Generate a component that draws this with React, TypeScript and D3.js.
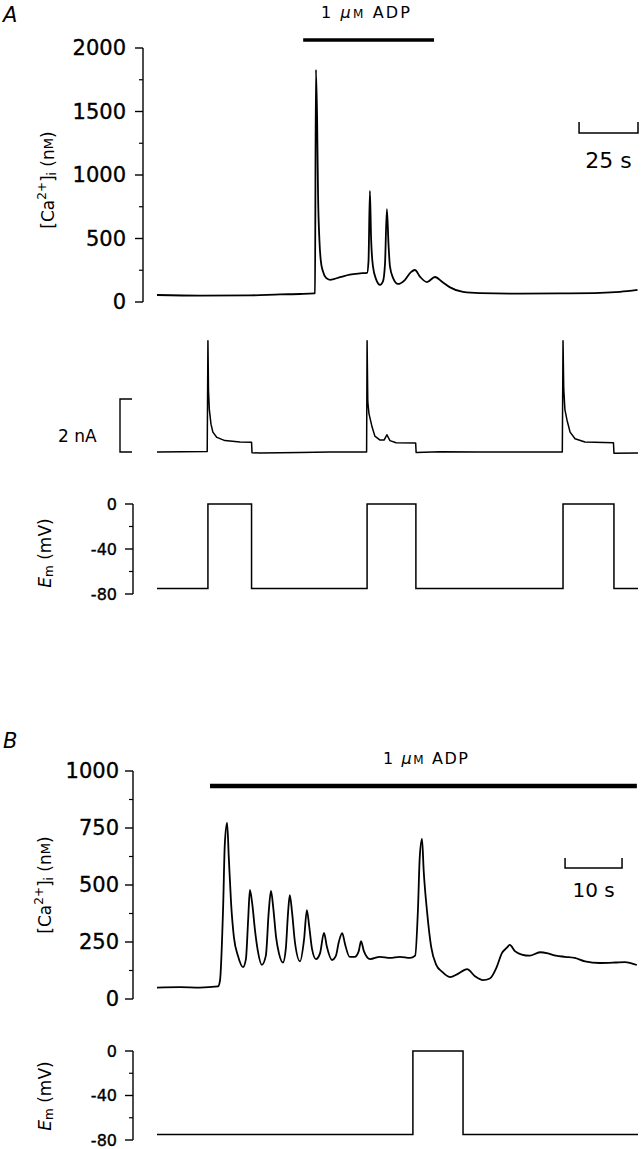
import React from "react";
import * as d3 from "d3";

// ---- panel A: 25 s scale, ADP 1 uM ----
const caA_t = [0, 18.2, 39.4, 52.2, 60.6, 66.6, 67.0, 67.4, 67.9, 68.3, 68.9, 69.5, 70.4, 71.7, 73.4, 77.6, 81.8, 86.1, 89.1, 89.7, 90.3, 90.8, 91.6, 92.9, 94.6, 95.8, 96.7, 97.5, 98.2, 98.8, 100.1, 102.2, 105.2, 107.7, 109.4, 111.5, 114.5, 117.9, 120.9, 124.3, 129.8, 137, 153.9, 170.9, 187.9, 196.4, 203.8];
const caA_nM = [55, 50, 52, 60, 63, 68, 70, 1830, 1450, 850, 480, 320, 240, 190, 175, 195, 215, 225, 230, 320, 874, 500, 280, 180, 135, 160, 300, 732, 450, 280, 190, 142, 175, 235, 252, 200, 157, 197, 160, 115, 79, 70, 66, 68, 72, 80, 95];

const iA_t = [0, 21.3, 21.6, 21.85, 22.2, 22.9, 23.7, 25.4, 28.8, 35.2, 40.1, 40.3, 43.7, 60.6, 73.4, 88.9, 89.1, 89.4, 89.9, 91.2, 92.4, 94.6, 96.3, 97.5, 98.8, 101.4, 109.7, 109.9, 120, 137, 171.9, 172.2, 172.5, 173.0, 173.9, 175.2, 177.3, 181.5, 193.6, 193.8, 204];
const iA_nA = [0, 0.02, 4.2, 2.3, 1.6, 1.05, 0.75, 0.55, 0.43, 0.38, 0.37, -0.03, -0.04, -0.02, 0, 0, 4.2, 1.9, 1.45, 0.95, 0.6, 0.45, 0.45, 0.65, 0.43, 0.35, 0.34, -0.02, 0.01, 0, 0, 4.2, 2.4, 1.6, 1.2, 0.75, 0.5, 0.38, 0.35, -0.05, -0.04];

const emA_t = [0, 21.6, 40.1, 89.1, 109.8, 172.2, 193.8, 204];
const emA_mV = [-75, 0, -75, 0, -75, 0, -75, -75];

const adpA = [62, 117.5];
const caTicksA = [0, 500, 1000, 1500, 2000];

// ---- panel B: 10 s scale ----
const caB_t = [0, 4.0, 7.5, 10.7, 11.05, 11.6, 11.9, 12.3, 12.6, 13.0, 13.5, 14.2, 15.1, 15.6, 16.0, 16.3, 16.7, 17.2, 17.7, 18.4, 19.1, 19.6, 20.0, 20.4, 20.9, 21.4, 22.1, 22.6, 23.0, 23.3, 23.7, 24.2, 25.1, 25.8, 26.3, 26.7, 27.2, 27.9, 28.6, 29.3, 29.8, 30.7, 31.4, 31.9, 32.5, 33.0, 33.8, 34.7, 35.4, 35.8, 36.3, 37.4, 39.1, 40.9, 42.6, 44.4, 45.3, 45.8, 46.1, 46.5, 46.8, 47.4, 48.1, 49.0, 50.0, 51.4, 52.8, 54.4, 55.8, 57.2, 58.4, 59.6, 60.5, 61.4, 61.9, 62.8, 64.0, 65.4, 67.2, 68.6, 70.0, 71.6, 73.3, 75.1, 77.7, 80.4, 82.1, 84.2];
const caB_nM = [50, 52, 50, 55, 80, 400, 680, 772, 620, 420, 270, 190, 140, 175, 350, 478, 420, 300, 210, 150, 190, 380, 474, 400, 270, 200, 160, 220, 380, 456, 380, 250, 165, 260, 390, 320, 220, 175, 200, 290, 230, 171, 190, 250, 289, 240, 185, 185, 210, 254, 210, 175, 185, 180, 185, 180, 190, 400, 620, 702, 560, 380, 230, 150, 120, 96, 110, 131, 100, 83, 90, 140, 200, 225, 237, 210, 195, 190, 205, 200, 190, 185, 180, 165, 158, 160, 162, 149];

const emB_t = [0, 44.9, 53.7, 84.4];
const emB_mV = [-75, 0, -75, -75];

const adpB = [9.3, 84.2];
const caTicksB = [0, 250, 500, 750, 1000];

const emTicks = [0, -40, -80];
const FONT = "'DejaVu Sans', Arial, sans-serif";

function LeftAxis({ x, scale, major, minor, fs, labelX }: any) {
  const [r0, r1] = scale.range();
  return (
    <g>
      <line x1={x} x2={x} y1={r0} y2={r1} stroke="#000" strokeWidth={1.4} />
      {minor.map((v: number) => (
        <line key={"m" + v} x1={x - 4} x2={x} y1={scale(v)} y2={scale(v)} stroke="#000" strokeWidth={1.2} />
      ))}
      {major.map((v: number) => (
        <g key={v}>
          <line x1={x - 8} x2={x} y1={scale(v)} y2={scale(v)} stroke="#000" strokeWidth={1.4} />
          <text x={labelX} y={scale(v)} textAnchor="end" dominantBaseline="central" fontSize={fs} fontFamily={FONT} stroke="#000" strokeWidth={0.35}>
            {v}
          </text>
        </g>
      ))}
    </g>
  );
}

function CaLabel({ x, y }: any) {
  return (
    <text transform={`translate(${x},${y}) rotate(-90)`} textAnchor="middle" dominantBaseline="central" fontSize={17} fontFamily={FONT}>
      [Ca<tspan dy={-6} fontSize={12}>2+</tspan>
      <tspan dy={6}>]</tspan>
      <tspan dy={4} fontSize={12}>i</tspan>
      <tspan dy={-4}> (n</tspan>
      <tspan fontSize={13}>M</tspan>)
    </text>
  );
}

function EmLabel({ x, y }: any) {
  return (
    <text transform={`translate(${x},${y}) rotate(-90)`} textAnchor="middle" dominantBaseline="central" fontSize={17} fontFamily={FONT}>
      <tspan fontStyle="italic">E</tspan>
      <tspan dy={4} fontSize={12}>m</tspan>
      <tspan dy={-4}>{"  (mV)"}</tspan>
    </text>
  );
}

function AdpLabel({ x, y, len }: any) {
  return (
    <text x={x} y={y} fontSize={16} fontFamily={FONT} textLength={len} lengthAdjust="spacing">
      1 <tspan fontStyle="italic">μ</tspan>
      <tspan fontSize={12}>M</tspan> ADP
    </text>
  );
}

export default function App() {
  // panel A scales
  const xA = d3.scaleLinear().domain([0, 204]).range([157, 638]);
  const yCaA = d3.scaleLinear().domain([0, 2000]).range([302, 48]);
  const yIA = d3.scaleLinear().domain([0, 2]).range([452, 399]);
  const yEmA = d3.scaleLinear().domain([-80, 0]).range([594, 504]);
  // panel B scales
  const xB = d3.scaleLinear().domain([0, 84.4]).range([157, 638]);
  const yCaB = d3.scaleLinear().domain([0, 1000]).range([999, 771]);
  const yEmB = d3.scaleLinear().domain([-80, 0]).range([1140, 1051]);

  const lineOf = (xs: any, ys: any, t: number[], v: number[], curve: any = d3.curveLinear) =>
    d3.line<number>().x((i) => xs(t[i])).y((i) => ys(v[i])).curve(curve)(d3.range(t.length)) as string;

  const caTraceA = lineOf(xA, yCaA, caA_t, caA_nM, d3.curveMonotoneX);
  const iTraceA = lineOf(xA, yIA, iA_t, iA_nA);
  const emTraceA = lineOf(xA, yEmA, emA_t, emA_mV, d3.curveStepAfter);
  const caTraceB = lineOf(xB, yCaB, caB_t, caB_nM, d3.curveMonotoneX);
  const emTraceB = lineOf(xB, yEmB, emB_t, emB_mV, d3.curveStepAfter);

  const minorA = d3.range(250, 2000, 500);
  const minorB = d3.range(125, 1000, 250);
  const minorEm = [-20, -60];

  const sbA = [179, 204];
  const sbB = [71.6, 81.6];

  return (
    <div style={{ position: "absolute", left: 0, top: 0 }}>
      <svg width={644} height={1149} style={{ display: "block", background: "#fff" }}>
        {/* panel letters */}
        <text x={3} y={22} fontSize={21} fontStyle="italic" fontFamily={FONT}>A</text>
        <text x={3} y={748} fontSize={21} fontStyle="italic" fontFamily={FONT}>B</text>

        {/* ---- A: calcium ---- */}
        <LeftAxis x={143} scale={yCaA} major={caTicksA} minor={minorA} fs={21} labelX={126} />
        <CaLabel x={48} y={180} />
        <line x1={xA(adpA[0])} x2={xA(adpA[1])} y1={40} y2={40} stroke="#000" strokeWidth={3.5} />
        <AdpLabel x={321} y={18} len={89} />
        <path d={caTraceA} fill="none" stroke="#000" strokeWidth={1.8} strokeLinejoin="round" />
        <path d={`M${xA(sbA[0])},122V133H${xA(sbA[1])}V122`} fill="none" stroke="#000" strokeWidth={1.5} />
        <text x={(xA(sbA[0]) + xA(sbA[1])) / 2} y={168} textAnchor="middle" fontSize={22} fontFamily={FONT}>25 s</text>

        {/* ---- A: current ---- */}
        <path d={`M132,${yIA(2)}H120V${yIA(0)}H132`} fill="none" stroke="#000" strokeWidth={1.4} />
        <text x={58} y={442} fontSize={17} fontFamily={FONT}>2 nA</text>
        <path d={iTraceA} fill="none" stroke="#000" strokeWidth={1.5} strokeLinejoin="round" />

        {/* ---- A: membrane potential ---- */}
        <LeftAxis x={133} scale={yEmA} major={emTicks} minor={minorEm} fs={16} labelX={117} />
        <EmLabel x={45} y={553} />
        <path d={emTraceA} fill="none" stroke="#000" strokeWidth={1.5} />

        {/* ---- B: calcium ---- */}
        <LeftAxis x={133} scale={yCaB} major={caTicksB} minor={minorB} fs={21} labelX={119} />
        <CaLabel x={45} y={885} />
        <line x1={xB(adpB[0])} x2={xB(adpB[1])} y1={786} y2={786} stroke="#000" strokeWidth={4.5} />
        <AdpLabel x={383} y={764} len={85} />
        <path d={caTraceB} fill="none" stroke="#000" strokeWidth={1.8} strokeLinejoin="round" />
        <path d={`M${xB(sbB[0])},858V868H${xB(sbB[1])}V858`} fill="none" stroke="#000" strokeWidth={1.5} />
        <text x={(xB(sbB[0]) + xB(sbB[1])) / 2} y={897} textAnchor="middle" fontSize={20} fontFamily={FONT}>10 s</text>

        {/* ---- B: membrane potential ---- */}
        <LeftAxis x={133} scale={yEmB} major={emTicks} minor={minorEm} fs={16} labelX={117} />
        <EmLabel x={45} y={1096} />
        <path d={emTraceB} fill="none" stroke="#000" strokeWidth={1.5} />
      </svg>
    </div>
  );
}
